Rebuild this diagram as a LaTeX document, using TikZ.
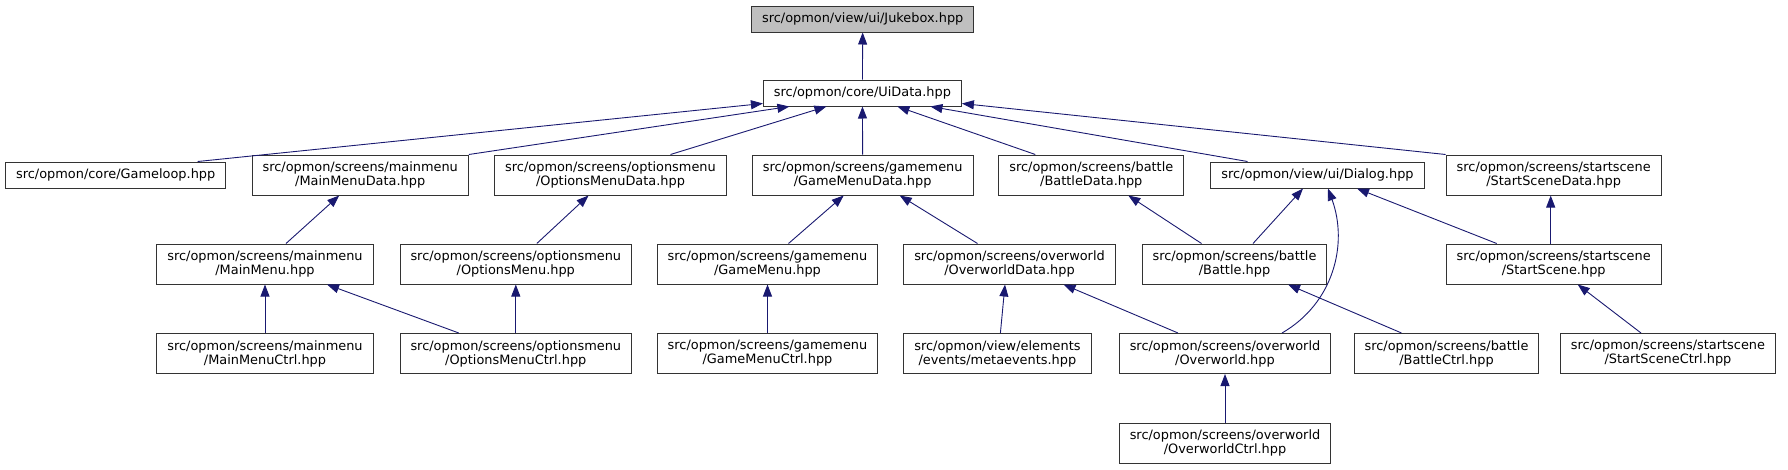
\documentclass[tikz,border=0pt]{standalone}
\usepackage{fontspec}
\setmainfont{DejaVu Sans}
\usepackage{xcolor}
\definecolor{EdgeBlue}{HTML}{191970}
\definecolor{Frame}{HTML}{333333}
\definecolor{Current}{HTML}{BFBFBF}
\usepackage{tikz}
\usetikzlibrary{arrows.meta}

\begin{document}
\begin{tikzpicture}[
  x=1pt,y=-1pt,
  box/.style={draw=Frame,fill=white,line width=1pt,align=center,inner xsep=10.5pt,inner ysep=2pt,minimum height=26pt,font=\fontsize{12.9pt}{14pt}\selectfont},
  twobox/.style={box,minimum height=40pt},
  graybox/.style={box,fill=Current},
  arrow/.style={-{Triangle[length=12pt,width=9pt]},draw=EdgeBlue,line width=0.9pt}
]
  \useasboundingbox (0,0) rectangle (1788,469);

  \node[graybox] (jukebox) at (862.7,19) {src/opmon/view/ui/Jukebox.hpp};
  \node[box] (uidata) at (862.4,93) {src/opmon/core/UiData.hpp};

  \node[box] (gameloop) at (115.7,175) {src/opmon/core/Gameloop.hpp};
  \node[twobox] (mainmenudata) at (360.2,175) {src/opmon/screens/mainmenu\\/MainMenuData.hpp};
  \node[twobox] (optionsmenudata) at (610.5,175) {src/opmon/screens/optionsmenu\\/OptionsMenuData.hpp};
  \node[twobox] (gamemenudata) at (862.7,175) {src/opmon/screens/gamemenu\\/GameMenuData.hpp};
  \node[twobox] (battledata) at (1091.3,175) {src/opmon/screens/battle\\/BattleData.hpp};
  \node[box] (dialog) at (1317.5,175) {src/opmon/view/ui/Dialog.hpp};
  \node[twobox] (startscenedata) at (1553.7,175) {src/opmon/screens/startscene\\/StartSceneData.hpp};

  \node[twobox] (mainmenu) at (265,264) {src/opmon/screens/mainmenu\\/MainMenu.hpp};
  \node[twobox] (optionsmenu) at (515.8,264) {src/opmon/screens/optionsmenu\\/OptionsMenu.hpp};
  \node[twobox] (gamemenu) at (767.5,264) {src/opmon/screens/gamemenu\\/GameMenu.hpp};
  \node[twobox] (overworlddata) at (1009.5,264) {src/opmon/screens/overworld\\/OverworldData.hpp};
  \node[twobox] (battle) at (1234.5,264) {src/opmon/screens/battle\\/Battle.hpp};
  \node[twobox] (startscene) at (1553.7,264) {src/opmon/screens/startscene\\/StartScene.hpp};

  \node[twobox] (mainmenuctrl) at (265,353.5) {src/opmon/screens/mainmenu\\/MainMenuCtrl.hpp};
  \node[twobox] (optionsmenuctrl) at (515.8,353.5) {src/opmon/screens/optionsmenu\\/OptionsMenuCtrl.hpp};
  \node[twobox] (gamemenuctrl) at (767.5,353.5) {src/opmon/screens/gamemenu\\/GameMenuCtrl.hpp};
  \node[twobox] (metaevents) at (997.4,353.5) {src/opmon/view/elements\\/events/metaevents.hpp};
  \node[twobox] (overworld) at (1225,353.5) {src/opmon/screens/overworld\\/Overworld.hpp};
  \node[twobox] (battlectrl) at (1446.5,353.5) {src/opmon/screens/battle\\/BattleCtrl.hpp};
  \node[twobox] (startscenectrl) at (1668,353.5) {src/opmon/screens/startscene\\/StartSceneCtrl.hpp};

  \node[twobox] (overworldctrl) at (1225,443) {src/opmon/screens/overworld\\/OverworldCtrl.hpp};

  % includes of UiData.hpp
  \draw[arrow] (uidata) -- (jukebox);
  \draw[arrow] ([xshift=82pt]gameloop.north) -- ([yshift=3pt]uidata.south west);
  \draw[arrow] (mainmenudata.north east) -- ([xshift=-73pt]uidata.south);
  \draw[arrow] ([xshift=60pt]optionsmenudata.north) -- ([xshift=-36pt]uidata.south);
  \draw[arrow] (gamemenudata) -- (uidata);
  \draw[arrow] ([xshift=-56pt]battledata.north) -- ([xshift=35pt]uidata.south);
  \draw[arrow] ([xshift=-70pt]dialog.north) -- ([xshift=68pt]uidata.south);
  \draw[arrow] (startscenedata.north west) -- ([yshift=3pt]uidata.south east);

  % second level
  \draw[arrow] ([xshift=21pt]mainmenu.north) -- ([xshift=-21pt]mainmenudata.south);
  \draw[arrow] ([xshift=21pt]optionsmenu.north) -- ([xshift=-22pt]optionsmenudata.south);
  \draw[arrow] ([xshift=21pt]gamemenu.north) -- ([xshift=-19pt]gamemenudata.south);
  \draw[arrow] ([xshift=-32pt]overworlddata.north) -- ([xshift=37pt]gamemenudata.south);
  \draw[arrow] ([xshift=-33pt]battle.north) -- ([xshift=37pt]battledata.south);
  \draw[arrow] ([xshift=18.5pt]battle.north) -- ([xshift=-14.5pt]dialog.south);
  \draw[arrow] ([xshift=57pt]overworld.north) to[out=30,in=-70] ([xshift=10.5pt]dialog.south);
  \draw[arrow] ([xshift=-57pt]startscene.north) -- ([xshift=39.5pt]dialog.south);
  \draw[arrow] ([xshift=-3pt]startscene.north) -- ([xshift=-3pt]startscenedata.south);

  % third level
  \draw[arrow] (mainmenuctrl) -- (mainmenu);
  \draw[arrow] ([xshift=-57pt]optionsmenuctrl.north) -- ([xshift=62pt]mainmenu.south);
  \draw[arrow] (optionsmenuctrl) -- (optionsmenu);
  \draw[arrow] (gamemenuctrl) -- (gamemenu);
  \draw[arrow] ([xshift=3pt]metaevents.north) -- ([xshift=-4.5pt]overworlddata.south);
  \draw[arrow] ([xshift=-47pt]overworld.north) -- ([xshift=54pt]overworlddata.south);
  \draw[arrow] ([xshift=-45pt]battlectrl.north) -- ([xshift=53.5pt]battle.south);
  \draw[arrow] ([xshift=-27pt]startscenectrl.north) -- ([xshift=24pt]startscene.south);
  \draw[arrow] (overworldctrl) -- (overworld);
\end{tikzpicture}
\end{document}
